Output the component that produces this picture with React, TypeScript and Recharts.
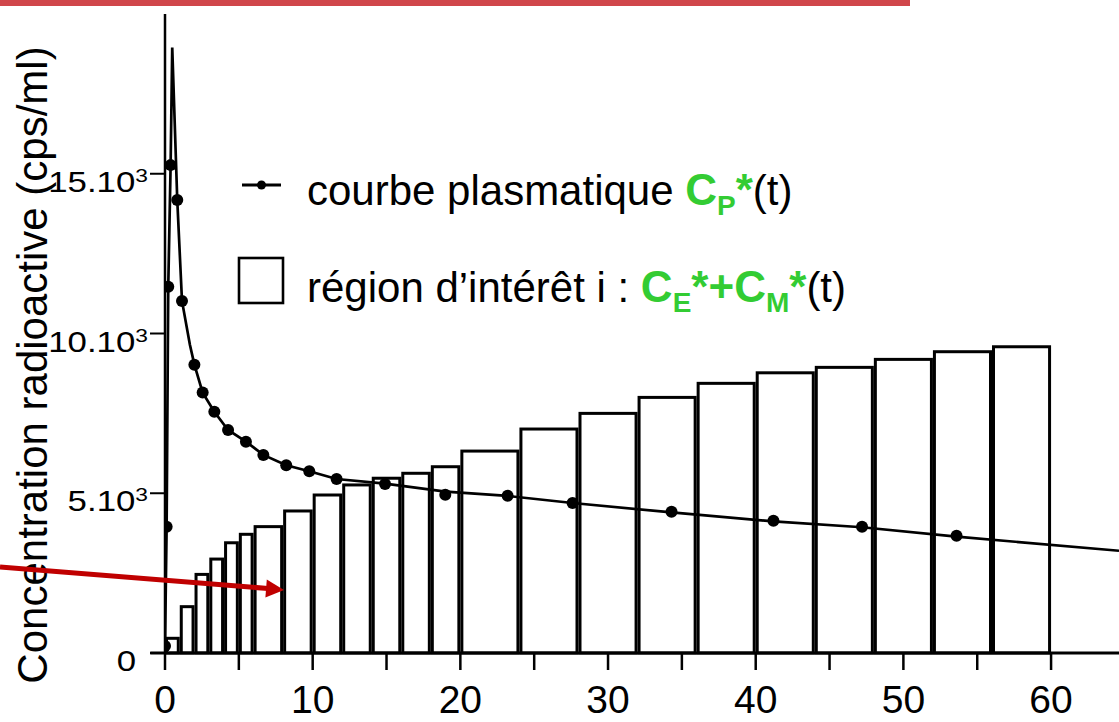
import React from "react";
import {
  ComposedChart,
  XAxis,
  YAxis,
  Line,
  Scatter,
  ReferenceArea,
  ReferenceLine,
} from "recharts";

// acquisition frames (minutes) and mean ROI activity
const frameStart = [0, 1, 2, 3, 4, 5, 6, 8, 10, 12, 14, 16, 18, 20, 24, 28, 32, 36, 40, 44, 48, 52, 56];
const frameEnd = [1, 2, 3, 4, 5, 6, 8, 10, 12, 14, 16, 18, 20, 24, 28, 32, 36, 40, 44, 48, 52, 56, 60];
const roiValues = [460, 1450, 2460, 2940, 3450, 3715, 3955, 4445, 4945, 5260, 5470, 5625, 5830, 6320, 7010, 7500, 8000, 8440, 8770, 8940, 9190, 9430, 9585];

// plasma samples (dots)
const sampleTime = [0, 0.11, 0.22, 0.38, 0.83, 1.15, 1.99, 2.55, 3.34, 4.27, 5.48, 6.66, 8.21, 9.77, 11.62, 14.9, 18.98, 23.2, 27.6, 34.3, 41.2, 47.2, 53.6];
const sampleConc = [220, 3950, 11465, 15270, 14180, 11020, 9025, 8150, 7550, 6980, 6615, 6200, 5875, 5690, 5445, 5290, 4955, 4925, 4695, 4420, 4140, 3955, 3670];

// fitted plasma curve
const curveTime = [0, 0.11, 0.22, 0.38, 0.49, 0.83, 1.15, 1.69, 1.99, 2.55, 3.34, 4.27, 5.48, 6.66, 8.21, 9.77, 11.62, 14.9, 19.0, 23.2, 27.6, 34.3, 41.2, 47.2, 53.6, 64.6];
const curveConc = [220, 3950, 11465, 15270, 18950, 14180, 11020, 9640, 9025, 8150, 7550, 6980, 6615, 6200, 5875, 5690, 5445, 5300, 5050, 4915, 4695, 4400, 4120, 3935, 3640, 3200];

const xTicks = [0, 5, 10, 15, 20, 25, 30, 35, 40, 45, 50, 55, 60];
const yTicks = [0, 5000, 10000, 15000];

const W = 1119;
const H = 722;
const FONT = '"Liberation Sans", Arial, sans-serif';
const GREEN = "#33cc33";

const samples = sampleTime.map((t, i) => ({ t, c: sampleConc[i] }));
const curve = curveTime.map((t, i) => ({ t, c: curveConc[i] }));
const frames = frameStart.map((s, i) => ({ s, e: frameEnd[i], v: roiValues[i] }));

const YTick = (props: any) => {
  const { x, y, payload } = props;
  const v = payload.value;
  const shift = v === 0 ? -12 : 0;
  return (
    <g transform={`translate(${x + shift},${y + 8}) scale(1.2,1)`}>
      <text x={0} y={0} dy="0.35em" textAnchor="end" fontSize={29} fill="#000" fontFamily={FONT}>
        {v === 0 ? "0" : `${v / 1000}.10`}
        {v !== 0 && (
          <tspan fontSize={19} dy={-10}>
            3
          </tspan>
        )}
      </text>
    </g>
  );
};

const FrameRect = (props: any) => {
  const { x, y, width, height } = props;
  return (
    <rect
      x={x + 1.5}
      y={y}
      width={Math.max(width - 3, 0)}
      height={height}
      fill="#fff"
      stroke="#000"
      strokeWidth={3}
    />
  );
};

const Dot = (props: any) => <circle cx={props.cx} cy={props.cy} r={6} fill="#000" />;

export default function App() {
  return (
    <div
      style={{
        position: "absolute",
        left: 0,
        top: 0,
        width: W,
        height: H,
        overflow: "hidden",
        background: "#fff",
        fontFamily: FONT,
      }}
    >
      <ComposedChart width={W} height={H} margin={{ top: 14, right: 0, bottom: 0, left: 0 }}>
        <XAxis
          type="number"
          dataKey="t"
          domain={[0, 64.6]}
          allowDataOverflow
          ticks={xTicks}
          tickFormatter={(v: number) => (v % 10 === 0 ? String(v) : "")}
          tickSize={17}
          tickMargin={15}
          height={69}
          axisLine={false}
          tickLine={{ stroke: "#000", strokeWidth: 2.5 }}
          tick={{ fill: "#000", fontSize: 39, fontFamily: FONT }}
        />
        <YAxis
          type="number"
          domain={[0, 20000]}
          allowDataOverflow
          ticks={yTicks}
          width={165}
          tickSize={15}
          axisLine={{ stroke: "#000", strokeWidth: 2.5 }}
          tickLine={{ stroke: "#000", strokeWidth: 2 }}
          tick={<YTick />}
        />
        <ReferenceLine
          segment={[
            { x: -1, y: 0 },
            { x: 64.6, y: 0 },
          ]}
          ifOverflow="visible"
          stroke="#000"
          strokeWidth={3}
        />
        {frames.map((f, i) => (
          <ReferenceArea
            key={i}
            x1={f.s}
            x2={f.e}
            y1={0}
            y2={f.v}
            shape={<FrameRect />}
            ifOverflow="visible"
          />
        ))}
        <Line
          data={curve}
          dataKey="c"
          type="linear"
          stroke="#000"
          strokeWidth={2.7}
          dot={false}
          activeDot={false}
          isAnimationActive={false}
        />
        <Scatter data={samples} dataKey="c" fill="#000" shape={<Dot />} isAnimationActive={false} />
      </ComposedChart>

      <svg
        width={W}
        height={H}
        style={{ position: "absolute", left: 0, top: 0, pointerEvents: "none" }}
        fontFamily={FONT}
      >
        <rect x={0} y={0} width={910} height={6} fill="#d0464b" />

        <text transform="translate(47,365) rotate(-90)" textAnchor="middle" fontSize={42} fill="#000">
          Concentration radioactive (cps/ml)
        </text>

        <line x1={0} y1={567} x2={268} y2={588.5} stroke="#c00000" strokeWidth={5} />
        <polygon points="284,590 266.8,579.5 265.4,597.5" fill="#c00000" />

        <line x1={242} y1={185} x2={281} y2={185} stroke="#000" strokeWidth={3} />
        <circle cx={261.5} cy={185} r={4.5} fill="#000" />
        <text x={307} y={205} fontSize={42} fill="#000">
          {"courbe plasmatique "}
          <tspan fill={GREEN} fontWeight="bold" fontSize={44}>C</tspan>
          <tspan fill={GREEN} fontWeight="bold" fontSize={28} dy={10}>P</tspan>
          <tspan fill={GREEN} fontWeight="bold" fontSize={44} dy={-10}>*</tspan>
          <tspan>(t)</tspan>
        </text>

        <rect x={239} y={258} width={44} height={45} fill="#fff" stroke="#000" strokeWidth={2.6} />
        <text x={307} y={302} fontSize={42} fill="#000">
          {"région d’intérêt i : "}
          <tspan fill={GREEN} fontWeight="bold" fontSize={44}>C</tspan>
          <tspan fill={GREEN} fontWeight="bold" fontSize={28} dy={10}>E</tspan>
          <tspan fill={GREEN} fontWeight="bold" fontSize={44} dy={-10}>*+C</tspan>
          <tspan fill={GREEN} fontWeight="bold" fontSize={28} dy={10}>M</tspan>
          <tspan fill={GREEN} fontWeight="bold" fontSize={44} dy={-10}>*</tspan>
          <tspan>(t)</tspan>
        </text>
      </svg>
    </div>
  );
}
